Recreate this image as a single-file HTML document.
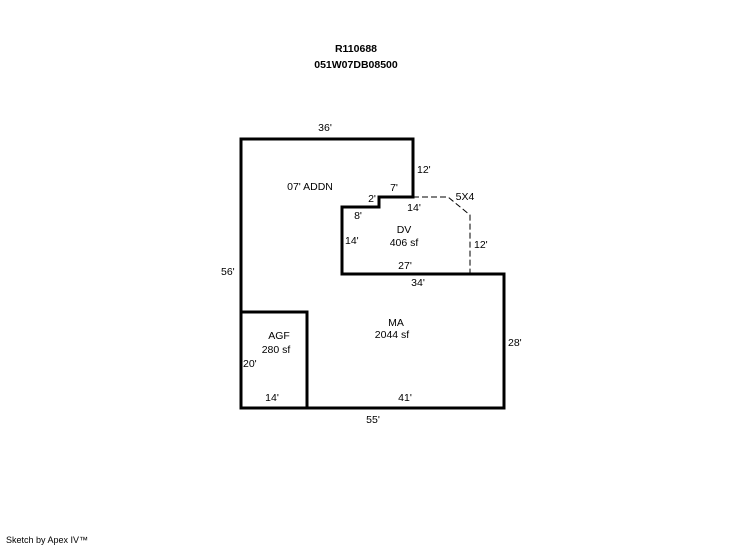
<!DOCTYPE html>
<html><head><meta charset="utf-8"><style>
html,body{margin:0;padding:0;background:#fff;}
svg{display:block;}
text{font-family:"Liberation Sans",Arial,sans-serif;font-size:10.5px;fill:#000;}
</style></head><body>
<svg width="746" height="547" viewBox="0 0 746 547" xmlns="http://www.w3.org/2000/svg">
<rect width="746" height="547" fill="#fff"/>
<text x="356" y="52" text-anchor="middle" font-weight="bold">R110688</text>
<text x="356" y="68" text-anchor="middle" font-weight="bold">051W07DB08500</text>
<g fill="none" stroke="#000" stroke-width="3" stroke-linejoin="miter" stroke-linecap="square">
<path d="M241,139 H413 V197 H379 V207 H342 V274 H504 V408 H241 Z"/>
<path d="M241,312 H307 V408"/>
</g>
<path d="M413,197 H448 L470,215 V274" fill="none" stroke="#000" stroke-width="1" stroke-dasharray="6,3"/>
<text x="325" y="131" text-anchor="middle">36'</text>
<text x="417" y="173">12'</text>
<text x="310" y="190" text-anchor="middle">07' ADDN</text>
<text x="394" y="191" text-anchor="middle">7'</text>
<text x="372" y="202" text-anchor="middle">2'</text>
<text x="414" y="211" text-anchor="middle">14'</text>
<text x="465" y="200" text-anchor="middle">5X4</text>
<text x="358" y="219" text-anchor="middle">8'</text>
<text x="404" y="233" text-anchor="middle">DV</text>
<text x="404" y="246" text-anchor="middle">406 sf</text>
<text x="345" y="244">14'</text>
<text x="474" y="248">12'</text>
<text x="405" y="269" text-anchor="middle">27'</text>
<text x="418" y="286" text-anchor="middle">34'</text>
<text x="221" y="275">56'</text>
<text x="396" y="326" text-anchor="middle">MA</text>
<text x="392" y="338" text-anchor="middle">2044 sf</text>
<text x="279" y="339" text-anchor="middle">AGF</text>
<text x="276" y="353" text-anchor="middle">280 sf</text>
<text x="243" y="367">20'</text>
<text x="508" y="346">28'</text>
<text x="272" y="401" text-anchor="middle">14'</text>
<text x="405" y="401" text-anchor="middle">41'</text>
<text x="373" y="423" text-anchor="middle">55'</text>
<text x="6" y="543" style="font-size:9px">Sketch by Apex IV™</text>
</svg>
</body></html>
